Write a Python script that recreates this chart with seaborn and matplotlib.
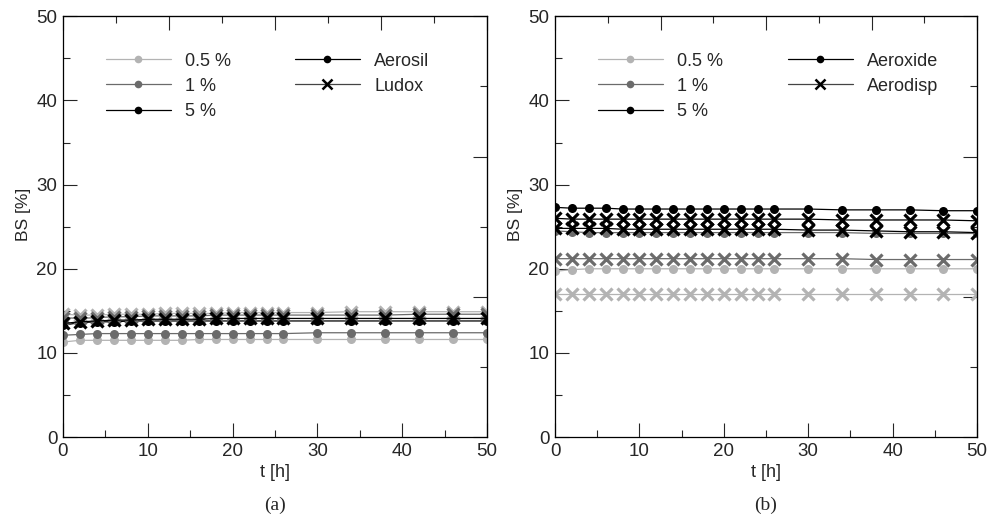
import numpy as np
import pandas as pd
import seaborn as sns
import matplotlib
matplotlib.use("Agg")
import matplotlib.pyplot as plt
from matplotlib.lines import Line2D
from matplotlib.ticker import MultipleLocator

sns.set_style("ticks")
plt.rcParams['font.family'] = ['Liberation Sans', 'DejaVu Sans']

# ---- data ----
t = [0, 2, 4, 6, 8, 10, 12, 14, 16, 18, 20, 22, 24, 26, 30, 34, 38, 42, 46, 50]

# panel (a)
aerosil_05 = [11.3, 11.5, 11.5, 11.5, 11.5, 11.5, 11.5, 11.5, 11.6, 11.6, 11.6, 11.6, 11.6, 11.6, 11.6, 11.6, 11.6, 11.6, 11.6, 11.6]
aerosil_1 = [12.1, 12.2, 12.3, 12.3, 12.3, 12.3, 12.3, 12.3, 12.3, 12.3, 12.3, 12.3, 12.3, 12.3, 12.4, 12.4, 12.4, 12.4, 12.4, 12.4]
aerosil_5 = [13.3, 13.6, 13.7, 13.7, 13.8, 13.8, 13.8, 13.8, 13.8, 13.8, 13.8, 13.8, 13.8, 13.8, 13.8, 13.8, 13.8, 13.8, 13.8, 13.8]
ludox_05 = [14.6, 14.5, 14.5, 14.6, 14.6, 14.6, 14.7, 14.7, 14.7, 14.7, 14.8, 14.8, 14.8, 14.8, 14.8, 14.9, 14.9, 14.9, 14.9, 14.9]
ludox_1 = [14.2, 14.1, 14.2, 14.3, 14.3, 14.4, 14.4, 14.4, 14.4, 14.5, 14.5, 14.5, 14.5, 14.5, 14.5, 14.5, 14.5, 14.6, 14.6, 14.6]
ludox_5 = [13.5, 13.7, 13.8, 13.9, 13.9, 14.0, 14.0, 14.0, 14.0, 14.1, 14.1, 14.1, 14.1, 14.1, 14.1, 14.1, 14.1, 14.1, 14.1, 14.1]

# panel (b)
aeroxide_05 = [19.7, 19.9, 20.0, 20.0, 20.0, 20.0, 20.0, 20.0, 20.0, 20.0, 20.0, 20.0, 20.0, 20.0, 20.0, 20.0, 20.0, 20.0, 20.0, 20.0]
aeroxide_1 = [24.5, 24.4, 24.3, 24.3, 24.3, 24.3, 24.3, 24.3, 24.3, 24.3, 24.3, 24.3, 24.3, 24.3, 24.3, 24.3, 24.2, 24.2, 24.2, 24.2]
aeroxide_5 = [27.3, 27.2, 27.2, 27.2, 27.1, 27.1, 27.1, 27.1, 27.1, 27.1, 27.1, 27.1, 27.1, 27.1, 27.1, 27.0, 27.0, 27.0, 26.9, 26.9]
aerodisp_05 = [17.0, 17.0, 17.0, 17.0, 17.0, 17.0, 17.0, 17.0, 17.0, 17.0, 17.0, 17.0, 17.0, 17.0, 17.0, 17.0, 17.0, 17.0, 17.0, 17.0]
aerodisp_1 = [21.2, 21.2, 21.2, 21.2, 21.2, 21.2, 21.2, 21.2, 21.2, 21.2, 21.2, 21.2, 21.2, 21.2, 21.2, 21.2, 21.1, 21.1, 21.1, 21.1]
aerodisp_5 = [26.0, 25.9, 25.9, 25.9, 25.9, 25.9, 25.9, 25.9, 25.9, 25.9, 25.9, 25.9, 25.9, 25.9, 25.9, 25.8, 25.8, 25.8, 25.8, 25.7]
aerodisp_5b = [24.8, 24.8, 24.8, 24.8, 24.7, 24.7, 24.7, 24.7, 24.7, 24.7, 24.7, 24.7, 24.7, 24.7, 24.6, 24.6, 24.5, 24.4, 24.4, 24.3]

conc_labels = ['0.5 %', '1 %', '5 %']
mat_a = ['Aerosil', 'Ludox']
mat_b = ['Aeroxide', 'Aerodisp']
xticks = [0, 10, 20, 30, 40, 50]
yticks = [0, 10, 20, 30, 40, 50]

# ---- style ----
C05, C1, C5 = '#b3b3b3', '#6b6b6b', '#000000'

panel_a = [
    (aerosil_05, C05, 'o'), (aerosil_1, C1, 'o'), (aerosil_5, C5, 'o'),
    (ludox_05, C05, 'x'), (ludox_1, C1, 'x'), (ludox_5, C5, 'x'),
]
panel_b = [
    (aeroxide_05, C05, 'o'), (aeroxide_1, C1, 'o'), (aeroxide_5, C5, 'o'),
    (aerodisp_05, C05, 'x'), (aerodisp_1, C1, 'x'), (aerodisp_5, C5, 'x'),
    (aerodisp_5b, C5, 'x'),
]

fig = plt.figure(figsize=(9.89, 5.26), dpi=100)
ax1 = fig.add_axes([0.0637, 0.169, 0.4287, 0.80])
ax2 = fig.add_axes([0.5612, 0.169, 0.4267, 0.80])


def draw(ax, series):
    for vals, col, mk in series:
        df = pd.DataFrame({'t': t, 'BS': vals})
        if mk == 'o':
            sns.lineplot(data=df, x='t', y='BS', ax=ax, color=col, marker='o',
                         markersize=6.5, markeredgewidth=0, markerfacecolor=col,
                         linewidth=0.9)
        else:
            sns.lineplot(data=df, x='t', y='BS', ax=ax, color=col, marker='x',
                         markersize=8.5, markeredgewidth=2.3, markeredgecolor=col,
                         linewidth=0.9)


def style(ax, mats, panel, leg2_x):
    ax.set_xlim(0, 50)
    ax.set_ylim(0, 50)
    ax.set_xticks(xticks)
    ax.set_yticks(yticks)
    ax.xaxis.set_minor_locator(MultipleLocator(5))
    ax.yaxis.set_minor_locator(MultipleLocator(5))
    ax.tick_params(which='major', direction='in', length=10, width=0.8, labelsize=13.5, pad=4)
    ax.tick_params(which='minor', direction='in', length=5, width=0.8)
    for s in ax.spines.values():
        s.set_linewidth(0.9)
        s.set_color('black')
    # secondary (unlabelled) ticks on top and right
    top = ax.secondary_xaxis('top', functions=(lambda x: x * 1.6, lambda x: x / 1.6))
    top.xaxis.set_major_locator(MultipleLocator(20))
    top.xaxis.set_minor_locator(MultipleLocator(10))
    top.tick_params(which='major', direction='in', length=10, width=0.8, labeltop=False)
    top.tick_params(which='minor', direction='in', length=5, width=0.8)
    right = ax.secondary_yaxis('right', functions=(lambda y: y * 1.2, lambda y: y / 1.2))
    right.yaxis.set_major_locator(MultipleLocator(20))
    right.yaxis.set_minor_locator(MultipleLocator(10))
    right.tick_params(which='major', direction='in', length=10, width=0.8, labelright=False)
    right.tick_params(which='minor', direction='in', length=5, width=0.8)
    ax.set_xlabel('t [h]', fontsize=13, labelpad=3)
    ax.set_ylabel('BS [%]', fontsize=12.5, labelpad=4)
    ax.yaxis.set_label_coords(-0.075, 0.53)
    ax.text(0.5, -0.163, panel, transform=ax.transAxes, ha='center', va='center',
            fontsize=14, family=['Liberation Serif', 'DejaVu Serif'])

    h1 = [Line2D([], [], color=c, marker='o', markersize=5.5, markeredgewidth=0, linewidth=0.9)
          for c in (C05, C1, C5)]
    leg1 = ax.legend(h1, conc_labels, loc='upper left', bbox_to_anchor=(0.08, 0.935),
                     frameon=False, fontsize=13, handlelength=3.6, handletextpad=0.8,
                     labelspacing=0.45, borderpad=0)
    ax.add_artist(leg1)
    h2 = [Line2D([], [], color='black', marker='o', markersize=5.5, markeredgewidth=0, linewidth=0.9),
          Line2D([], [], color='#444444', marker='x', markersize=7.5, markeredgecolor='black',
                 markeredgewidth=1.8, linewidth=0.9)]
    ax.legend(h2, mats, loc='upper left', bbox_to_anchor=(leg2_x, 0.935),
              frameon=False, fontsize=13, handlelength=3.6, handletextpad=0.8,
              labelspacing=0.45, borderpad=0)


draw(ax1, panel_a)
draw(ax2, panel_b)
style(ax1, mat_a, '(a)', 0.525)
style(ax2, mat_b, '(b)', 0.53)

fig.savefig('out.png', dpi=100, facecolor='white')
